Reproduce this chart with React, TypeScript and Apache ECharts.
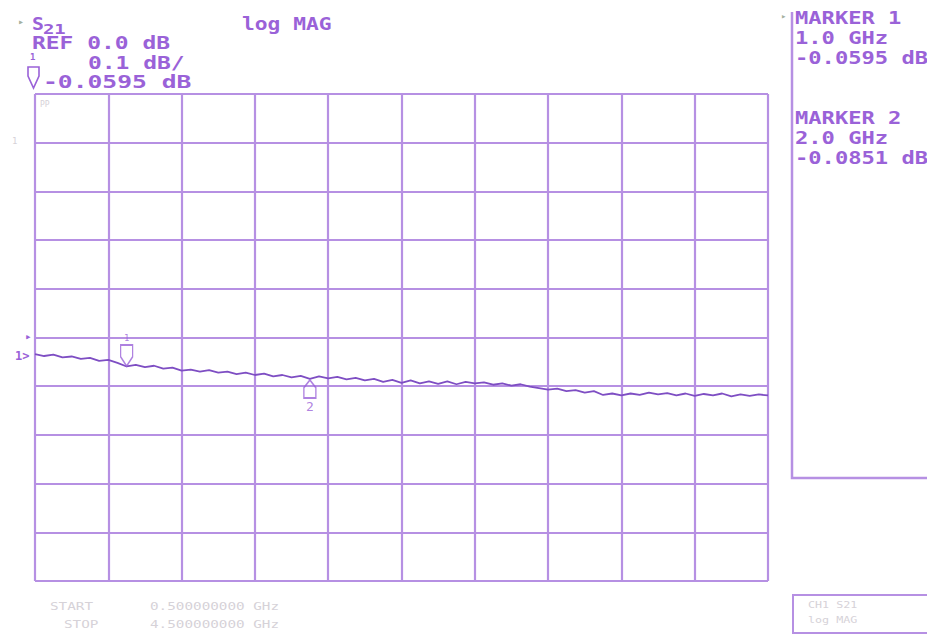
import React, { useEffect, useRef } from "react";
import * as echarts from "echarts";

const freqGHz = [
  0.5, 0.55, 0.6, 0.65, 0.7, 0.75, 0.8, 0.85, 0.9, 0.95,
  1.0, 1.05, 1.1, 1.15, 1.2, 1.25, 1.3, 1.35, 1.4, 1.45,
  1.5, 1.55, 1.6, 1.65, 1.7, 1.75, 1.8, 1.85, 1.9, 1.95,
  2.0, 2.05, 2.1, 2.15, 2.2, 2.25, 2.3, 2.35, 2.4, 2.45,
  2.5, 2.55, 2.6, 2.65, 2.7, 2.75, 2.8, 2.85, 2.9, 2.95,
  3.0, 3.05, 3.1, 3.15, 3.2, 3.25, 3.3, 3.35, 3.4, 3.45,
  3.5, 3.55, 3.6, 3.65, 3.7, 3.75, 3.8, 3.85, 3.9, 3.95,
  4.0, 4.05, 4.1, 4.15, 4.2, 4.25, 4.3, 4.35, 4.4, 4.45, 4.5,
];

const s21dB = [
  -0.034, -0.038, -0.035, -0.041, -0.039, -0.044, -0.042, -0.048, -0.046, -0.052,
  -0.0595, -0.056, -0.061, -0.058, -0.064, -0.062, -0.068, -0.066, -0.07, -0.067,
  -0.072, -0.07, -0.075, -0.072, -0.077, -0.074, -0.08, -0.077, -0.082, -0.079,
  -0.0851, -0.08, -0.084, -0.081, -0.086, -0.083, -0.088, -0.085, -0.091, -0.087,
  -0.093, -0.088, -0.094, -0.09, -0.095, -0.09, -0.096, -0.091, -0.094, -0.092,
  -0.097, -0.094, -0.099, -0.096, -0.101, -0.104, -0.107, -0.105, -0.11, -0.108,
  -0.113, -0.11, -0.118, -0.115, -0.119, -0.115, -0.118, -0.113, -0.117, -0.114,
  -0.119, -0.115, -0.12, -0.116, -0.119, -0.115, -0.121, -0.117, -0.12, -0.117, -0.119,
];

const markerFreq = [1.0, 2.0];
const markerValue = [-0.0595, -0.0851];
const markerFreqText = ["1.0 GHz", "2.0 GHz"];
const markerValueText = ["-0.0595 dB", "-0.0851 dB"];

const refLevel = 0.0;
const scalePerDiv = 0.1;
const divisions = 10;
const startText = "0.500000000 GHz";
const stopText = "4.500000000 GHz";

const TEXT = "#9a62d8";
const GRID = "#b690e3";
const TRACE = "#7e4ec3";
const FAINT = "#d6d2d8";
const MONO = "DejaVu Sans Mono";

function txt(
  text: string,
  x: number,
  y: number,
  size: number,
  sx = 1.4,
  fill = TEXT,
  weight = "bold"
) {
  return {
    type: "text",
    x,
    y,
    scaleX: sx,
    silent: true,
    style: {
      text,
      fontSize: size,
      fontFamily: MONO,
      fontWeight: weight,
      fill,
      verticalAlign: "top",
      textVerticalAlign: "top",
    },
  };
}

export default function App() {
  const ref = useRef<HTMLDivElement>(null);

  useEffect(() => {
    if (!ref.current) return;
    const chart = echarts.init(ref.current, undefined, { renderer: "svg" });
    const half = (divisions / 2) * scalePerDiv;
    const option: any = {
      animation: false,
      backgroundColor: "#ffffff",
      grid: { left: 35, top: 94, width: 733, height: 487, show: false },
      xAxis: [
        {
          type: "value",
          min: 0,
          max: divisions,
          interval: 1,
          axisLine: { show: false },
          axisTick: { show: false },
          axisLabel: { show: false },
          splitLine: { show: true, lineStyle: { color: GRID, width: 2.2 } },
        },
        {
          type: "value",
          min: freqGHz[0],
          max: freqGHz[freqGHz.length - 1],
          show: false,
          splitLine: { show: false },
        },
      ],
      yAxis: {
        type: "value",
        min: refLevel - half,
        max: refLevel + half,
        interval: scalePerDiv,
        axisLine: { show: false },
        axisTick: { show: false },
        axisLabel: { show: false },
        splitLine: { show: true, lineStyle: { color: GRID, width: 2.2 } },
      },
      series: [
        {
          type: "line",
          xAxisIndex: 1,
          data: freqGHz.map((f, i) => [f, s21dB[i]]),
          showSymbol: false,
          lineStyle: { color: TRACE, width: 1.8 },
          silent: true,
          z: 3,
        },
        {
          type: "scatter",
          xAxisIndex: 1,
          data: [[markerFreq[0], markerValue[0]]],
          symbol: "path://M0,0 L10,0 L10,9 L5,16 L0,9 Z",
          symbolSize: [12, 21],
          symbolOffset: [0, -11],
          itemStyle: { color: "rgba(255,255,255,0)", borderColor: TEXT, borderWidth: 1.6 },
          label: {
            show: true,
            position: "top",
            formatter: "1",
            color: TEXT,
            fontSize: 9,
            fontFamily: MONO,
            distance: 1,
          },
          z: 4,
        },
        {
          type: "scatter",
          xAxisIndex: 1,
          data: [[markerFreq[1], markerValue[1]]],
          symbol: "path://M5,0 L10,7 L10,16 L0,16 L0,7 Z",
          symbolSize: [12, 18],
          symbolOffset: [0, 10],
          itemStyle: { color: "rgba(255,255,255,0)", borderColor: TEXT, borderWidth: 1.6 },
          label: {
            show: true,
            position: "bottom",
            formatter: "2",
            color: TEXT,
            fontSize: 13,
            fontFamily: MONO,
            distance: 1,
          },
          z: 4,
        },
      ],
      graphic: [
        // header left
        txt("▸", 18, 16, 10, 1, "#a4b0a0", "normal"),
        txt("S", 32, 14, 18, 1.1),
        txt("21", 43, 22, 14, 1.35),
        txt("REF " + refLevel.toFixed(1) + " dB", 32, 35, 17, 1.35),
        txt(scalePerDiv.toFixed(1) + " dB/", 88, 55, 17, 1.35),
        txt(markerValueText[0], 43, 73, 17, 1.45),
        txt("log MAG", 242, 16, 17, 1.25),
        txt("1", 30, 52, 9, 1),
        {
          type: "polygon",
          silent: true,
          shape: { points: [[28, 67], [39, 67], [39, 76], [33.5, 88], [28, 76]] },
          style: { fill: "none", stroke: TEXT, lineWidth: 1.6 },
        },
        // marker panel
        txt("▸", 781, 11, 9, 1, "#a4b0a0", "normal"),
        txt("MARKER 1", 795, 10, 17, 1.3),
        txt(markerFreqText[0], 795, 30, 17, 1.3),
        txt(markerValueText[0], 795, 50, 17, 1.3),
        txt("MARKER 2", 795, 110, 17, 1.3),
        txt(markerFreqText[1], 795, 130, 17, 1.3),
        txt(markerValueText[1], 795, 150, 17, 1.3),
        {
          type: "polyline",
          silent: true,
          shape: { points: [[792, 12], [792, 478], [927, 478]] },
          style: { stroke: GRID, lineWidth: 2.5, fill: "none" },
        },
        // left indicators
        txt("▸", 25, 331, 11, 1, TEXT, "normal"),
        txt("1>", 15, 350, 12, 1),
        txt("1", 12, 136, 9, 1, FAINT, "normal"),
        txt("PP", 40, 100, 8, 1, FAINT, "normal"),
        // bottom faint annotations
        txt("START", 50, 601, 11, 1.3, FAINT, "normal"),
        txt("STOP", 64, 619, 11, 1.3, FAINT, "normal"),
        txt(startText, 150, 601, 11, 1.3, FAINT, "normal"),
        txt(stopText, 150, 619, 11, 1.3, FAINT, "normal"),
        {
          type: "rect",
          silent: true,
          shape: { x: 793, y: 595, width: 140, height: 38 },
          style: { fill: "none", stroke: GRID, lineWidth: 2 },
        },
        txt("CH1 S21", 808, 600, 9, 1.3, FAINT, "normal"),
        txt("log MAG", 808, 615, 9, 1.3, FAINT, "normal"),
      ],
    };
    chart.setOption(option);
    return () => chart.dispose();
  }, []);

  return (
    <div
      ref={ref}
      style={{ position: "fixed", left: 0, top: 0, width: 927, height: 635, background: "#fff" }}
    />
  );
}
